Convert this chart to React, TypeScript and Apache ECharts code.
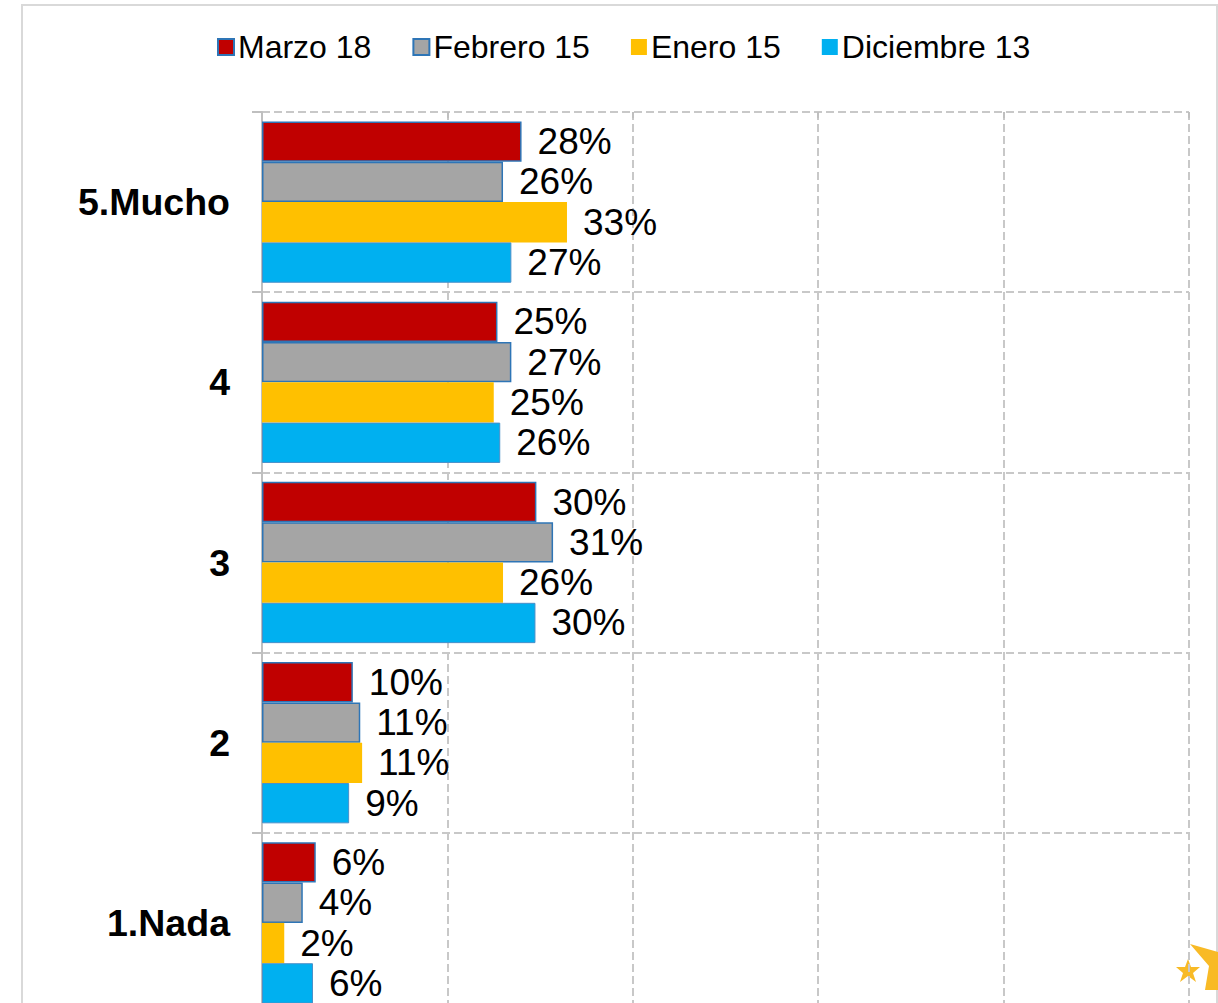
import React, { useEffect, useRef } from "react";
import * as echarts from "echarts";

const categories = ["1.Nada", "2", "3", "4", "5.Mucho"];
const seriesNames = ["Marzo 18", "Febrero 15", "Enero 15", "Diciembre 13"];
const marzo18 = [5.8, 9.8, 29.6, 25.4, 28.0];
const febrero15 = [4.4, 10.6, 31.4, 26.9, 26.0];
const enero15 = [2.4, 10.8, 26.0, 25.0, 32.9];
const diciembre13 = [5.5, 9.4, 29.5, 25.7, 26.9];
const axisMax = 100;
const axisInterval = 20;

const FONT = "'Liberation Sans', Arial, sans-serif";

export default function App() {
  const ref = useRef<HTMLDivElement>(null);
  useEffect(() => {
    if (!ref.current) return;
    const chart = echarts.init(ref.current, undefined, { renderer: "svg" });
    const styles = [
      { color: "#C00000", borderColor: "#2E75B6", borderWidth: 1.5 },
      { color: "#A5A5A5", borderColor: "#2E75B6", borderWidth: 1.5 },
      { color: "#FFC000", borderColor: "#FFC000", borderWidth: 0 },
      { color: "#00B0F0", borderColor: "#4A8FC8", borderWidth: 1 },
    ];
    const values = [marzo18, febrero15, enero15, diciembre13];
    const series = seriesNames.map((name, i) => ({
      name,
      type: "bar",
      data: values[i],
      barGap: "0%",
      barCategoryGap: "10.5%",
      itemStyle: styles[i],
      label: {
        show: true,
        position: "right",
        distance: 16,
        fontSize: 37,
        color: "#000",
        fontFamily: FONT,
        formatter: (p: any) => Math.round(p.value) + "%",
      },
    }));
    chart.setOption({
      animation: false,
      textStyle: { fontFamily: FONT },
      legend: {
        left: 212,
        top: 26,
        itemWidth: 16,
        itemHeight: 16,
        itemGap: 41,
        icon: "rect",
        textStyle: { fontSize: 32, color: "#000", fontFamily: FONT, padding: [0, 0, 0, -1] },
        data: seriesNames.map((n, i) => ({
          name: n,
          itemStyle: i >= 2 ? { borderWidth: 0 } : undefined,
        })),
      },
      graphic: [
        {
          type: "rect",
          shape: { x: 22, y: 5, width: 1195, height: 1100 },
          style: { fill: "none", stroke: "#D9D9D9", lineWidth: 2 },
          silent: true,
        },
        {
          type: "polygon",
          shape: {
            points: [
              [1188, 959], [1191, 967], [1200, 967], [1193, 973], [1196, 982],
              [1188, 976], [1180, 982], [1183, 973], [1176, 967], [1185, 967],
            ],
          },
          style: { fill: "#F8BA26" },
          silent: true,
        },
        {
          type: "polygon",
          shape: {
            points: [[1190, 944], [1218, 952], [1218, 990], [1205, 990], [1209, 966]],
          },
          style: { fill: "#F8BA26" },
          silent: true,
        },
      ],
      grid: { left: 262, right: 29, top: 112, bottom: 27, containLabel: false },
      xAxis: {
        type: "value",
        position: "top",
        min: 0,
        max: axisMax,
        interval: axisInterval,
        axisLabel: { show: false },
        axisLine: { show: false },
        axisTick: { show: true, inside: true, length: 6, lineStyle: { color: "#BFBFBF", width: 2 } },
        splitLine: { show: true, lineStyle: { color: "#C8C8C8", width: 2, type: [8, 4] } },
      },
      yAxis: {
        type: "category",
        data: categories,
        axisLine: { show: true, lineStyle: { color: "#BFBFBF", width: 2 } },
        axisTick: { show: true, length: 10, lineStyle: { color: "#BFBFBF", width: 2 } },
        axisLabel: {
          fontSize: 37.5,
          fontWeight: "bold",
          color: "#000",
          margin: 32,
          fontFamily: FONT,
        },
        splitLine: { show: true, lineStyle: { color: "#C8C8C8", width: 2, type: [8, 4] } },
      },
      series,
    });
    return () => chart.dispose();
  }, []);
  return (
    <div
      style={{
        position: "fixed",
        left: 0,
        top: 0,
        width: 1218,
        height: 1003,
        overflow: "hidden",
        background: "#fff",
      }}
    >
      <div ref={ref} style={{ width: 1218, height: 1040 }} />
    </div>
  );
}
